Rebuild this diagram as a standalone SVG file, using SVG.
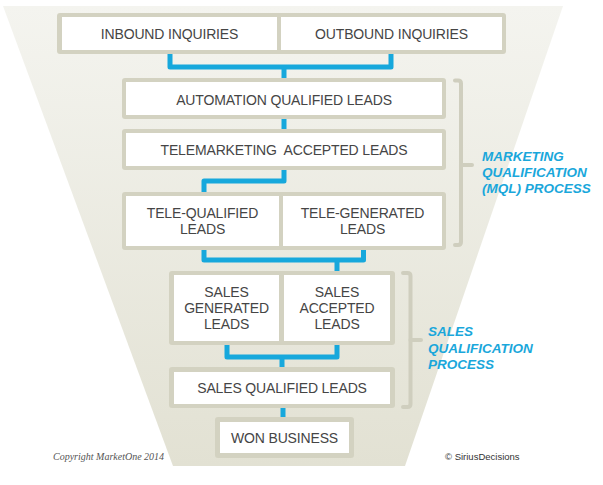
<svg xmlns="http://www.w3.org/2000/svg" width="603" height="485" viewBox="0 0 603 485">
<defs>
<linearGradient id="fg" x1="0" y1="0" x2="0" y2="1">
<stop offset="0" stop-color="#f4f4ef"/>
<stop offset="1" stop-color="#e2e1d3"/>
</linearGradient>
<style>
.frame{fill:#d3d2c1}
.cell{fill:#ffffff}
.lbl{font-family:"Liberation Sans",Arial,sans-serif;font-size:14px;fill:#454545;text-anchor:middle;letter-spacing:-0.15px}
.conn{fill:none;stroke:#17a8dc;stroke-width:5;stroke-linejoin:round}
.brk{fill:none;stroke:#cfcebe;stroke-width:4;stroke-linecap:round;stroke-linejoin:round}
.proc{font-family:"Liberation Sans",Arial,sans-serif;font-size:13.5px;font-weight:bold;font-style:italic;fill:#1aa7db}
</style>
</defs>
<rect width="603" height="485" fill="#ffffff"/>
<polygon id="funnel" points="3,6 563,6 405,466 173,466" fill="url(#fg)"/>

<g id="connectors">
<path class="conn" d="M170,54 V67 H391 V54"/>
<path class="conn" d="M284,67 V78"/>
<path class="conn" d="M284,119 V129"/>
<path class="conn" d="M284,170 V181 H204 V192"/>
<path class="conn" d="M204,250 V260 H363.5 V250"/>
<path class="conn" d="M337,260 V271"/>
<path class="conn" d="M227,345 V357 H337 V345"/>
<path class="conn" d="M282,357 V367"/>
<path class="conn" d="M283,408 V417"/>
</g>

<g id="row-inquiries">
<rect class="frame" x="57" y="13" width="449" height="41" rx="3"/>
<g id="inbound-inquiries">
<rect class="cell" x="62" y="17" width="215" height="33"/>
<text class="lbl" x="169.5" y="39">INBOUND INQUIRIES</text>
</g>
<g id="outbound-inquiries">
<rect class="cell" x="281" y="17" width="221" height="33"/>
<text class="lbl" x="391.5" y="39">OUTBOUND INQUIRIES</text>
</g>
</g>

<g id="automation-qualified-leads">
<rect class="frame" x="122" y="78" width="324" height="41" rx="3"/>
<rect class="cell" x="126" y="82" width="316" height="33"/>
<text class="lbl" x="284" y="104.5">AUTOMATION QUALIFIED LEADS</text>
</g>

<g id="telemarketing-accepted-leads">
<rect class="frame" x="122" y="129" width="324" height="41" rx="3"/>
<rect class="cell" x="126" y="133" width="316" height="33"/>
<text class="lbl" x="284" y="155" xml:space="preserve">TELEMARKETING  ACCEPTED LEADS</text>
</g>

<g id="row-tele">
<rect class="frame" x="122" y="192" width="324" height="58" rx="3"/>
<g id="tele-qualified-leads">
<rect class="cell" x="126" y="196" width="153" height="50"/>
<text class="lbl" x="202.5" y="218">TELE-QUALIFIED</text>
<text class="lbl" x="202.5" y="234">LEADS</text>
</g>
<g id="tele-generated-leads">
<rect class="cell" x="283" y="196" width="159" height="50"/>
<text class="lbl" x="362.5" y="218">TELE-GENERATED</text>
<text class="lbl" x="362.5" y="234">LEADS</text>
</g>
</g>

<g id="row-sales">
<rect class="frame" x="169" y="271" width="226" height="74" rx="3"/>
<g id="sales-generated-leads">
<rect class="cell" x="174" y="275" width="105" height="66"/>
<text class="lbl" x="226.5" y="297">SALES</text>
<text class="lbl" x="226.5" y="313">GENERATED</text>
<text class="lbl" x="226.5" y="329">LEADS</text>
</g>
<g id="sales-accepted-leads">
<rect class="cell" x="284" y="275" width="106" height="66"/>
<text class="lbl" x="337" y="297">SALES</text>
<text class="lbl" x="337" y="313">ACCEPTED</text>
<text class="lbl" x="337" y="329">LEADS</text>
</g>
</g>

<g id="sales-qualified-leads">
<rect class="frame" x="169" y="367" width="226" height="41" rx="3"/>
<rect class="cell" x="174" y="372" width="216" height="32"/>
<text class="lbl" x="282" y="393">SALES QUALIFIED LEADS</text>
</g>

<g id="won-business">
<rect class="frame" x="215" y="417" width="139" height="41" rx="3"/>
<rect class="cell" x="220" y="422" width="129" height="31"/>
<text class="lbl" x="284.5" y="442.5">WON BUSINESS</text>
</g>

<g id="mql-process">
<path class="brk" d="M455,80.5 H458 Q461,80.5 461,83.5 V242 Q461,245 458,245 H455"/>
<path class="brk" d="M461,165 H472"/>
<text class="proc" x="482" y="161">MARKETING</text>
<text class="proc" x="482" y="177">QUALIFICATION</text>
<text class="proc" x="482" y="193">(MQL) PROCESS</text>
</g>

<g id="sales-process">
<path class="brk" d="M403,273 H407.5 Q410.5,273 410.5,276 V404 Q410.5,407 407.5,407 H403"/>
<path class="brk" d="M410.5,340 H421"/>
<text class="proc" x="428" y="336">SALES</text>
<text class="proc" x="428" y="352.5">QUALIFICATION</text>
<text class="proc" x="428" y="369">PROCESS</text>
</g>

<text x="53" y="460" font-family="'Liberation Serif',serif" font-style="italic" font-size="10" fill="#555555">Copyright MarketOne 2014</text>
<text x="445" y="460" font-family="'Liberation Sans',Arial,sans-serif" font-size="9.5" fill="#333333">© SiriusDecisions</text>
</svg>
